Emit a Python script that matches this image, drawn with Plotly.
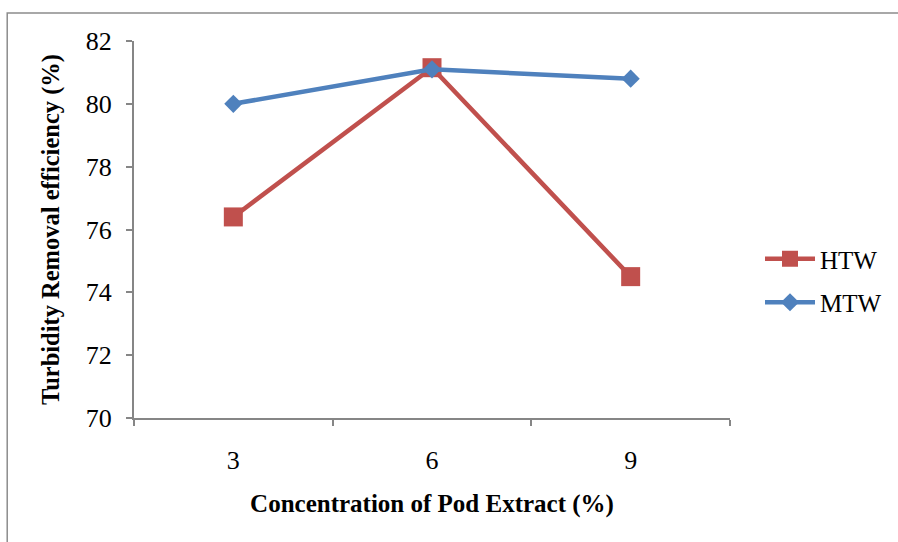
import plotly.graph_objects as go

categories = ["3", "6", "9"]
htw = [76.4, 81.15, 74.5]
mtw = [80.0, 81.1, 80.8]
y_ticks = [70, 72, 74, 76, 78, 80, 82]

FONT = "Liberation Serif, Times New Roman, serif"
AX = "#868686"

fig = go.Figure()
fig.add_trace(go.Scatter(
    x=categories, y=htw, name="HTW", mode="lines+markers",
    line=dict(color="#C0504D", width=4.5),
    marker=dict(symbol="square", size=19, color="#C0504D"),
    legendgroup="a",
))
fig.add_trace(go.Scatter(
    x=categories, y=mtw, name="MTW", mode="lines+markers",
    line=dict(color="#4F81BD", width=4.5),
    marker=dict(symbol="diamond", size=14, color="#4F81BD"),
    legendgroup="b",
))

L, R, T, B = 134, 731, 41, 418
W, H = 898, 542

def px(x):
    return (x - L) / (R - L)

def py(y):
    return (B - y) / (B - T)

fig.add_shape(type="rect", xref="paper", yref="paper",
              x0=px(7), x1=px(905), y0=py(560), y1=py(13),
              line=dict(color="#8c8c8c", width=1.5), layer="below")

fig.update_layout(
    width=W, height=H,
    margin=dict(l=L, r=W - R, t=T, b=H - B),
    paper_bgcolor="white", plot_bgcolor="white",
    font=dict(family=FONT, size=26, color="black"),
    showlegend=True,
    legend=dict(x=px(760), y=py(236), xanchor="left", yanchor="top",
                font=dict(size=25), traceorder="grouped", tracegroupgap=8,
                itemwidth=50, bgcolor="rgba(0,0,0,0)"),
    xaxis=dict(
        type="category", range=[-0.5, 2.5], showline=True, linecolor=AX, linewidth=2,
        ticks="outside", tickson="boundaries", ticklen=6, tickcolor=AX, tickwidth=2,
        showgrid=False, zeroline=False, ticklabelstandoff=18,
        tickfont=dict(family=FONT, size=26),
        title=dict(text="<b>Concentration of Pod Extract (%)</b>",
                   font=dict(family=FONT, size=25), standoff=20),
    ),
    yaxis=dict(
        range=[70, 82], tickvals=y_ticks, showline=True, linecolor=AX, linewidth=2,
        ticks="outside", ticklen=6, tickcolor=AX, tickwidth=2,
        showgrid=False, zeroline=False, ticklabelstandoff=9,
        tickfont=dict(family=FONT, size=26),
        title=dict(text="<b>Turbidity Removal efficiency (%)</b>",
                   font=dict(family=FONT, size=24.5), standoff=19),
    ),
)

fig.write_html("out.html")
